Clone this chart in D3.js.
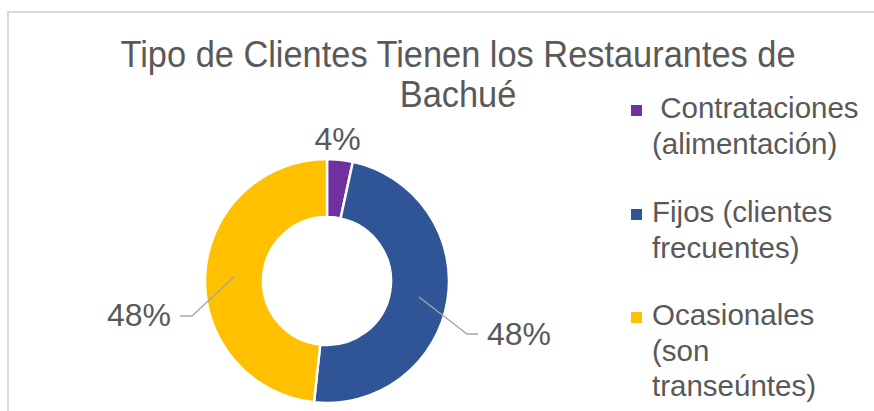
<!DOCTYPE html>
<html>
<head>
<meta charset="utf-8">
<script src="https://cdn.jsdelivr.net/npm/d3@7"></script>
<style>
  body { margin: 0; background: #fff; }
  text { font-family: "Liberation Sans", Arial, sans-serif; fill: #595959; }
</style>
</head>
<body>
<div id="chart"></div>
<script>
// data
var categories = [" Contrataciones (alimentación)", "Fijos (clientes frecuentes)", "Ocasionales (son transeúntes)"];
var values = [3.4, 48.3, 48.3];
var labels = ["4%", "48%", "48%"];
var colors = ["#7030a0", "#2f5597", "#ffc000"];
var legendLines = [[" Contrataciones", "(alimentación)"], ["Fijos (clientes", "frecuentes)"], ["Ocasionales", "(son", "transeúntes)"]];
var titleLines = ["Tipo de Clientes Tienen los Restaurantes de", "Bachué"];

var w = 874, h = 411;
var svg = d3.select("#chart").append("svg")
  .attr("width", w)
  .attr("height", h);

// chart area border (runs off right and bottom)
svg.append("path")
  .attr("d", "M8," + (h + 5) + "V12H" + (w + 5))
  .attr("fill", "none")
  .attr("stroke", "#d9d9d9")
  .attr("stroke-width", 2);

// title - the original font is a condensed serif, so squeeze it a bit
var titles = svg.append("g").selectAll("text")
  .data(titleLines)
  .enter()
  .append("text")
  .attr("x", 458)
  .attr("y", (d, i) => 67 + i * 40)
  .attr("text-anchor", "middle")
  .style("font-size", "36.5px")
  .text(d => d);
var squeeze = 675 / titles.node().getComputedTextLength();
titles.each(function() {
  var len = this.getComputedTextLength();
  d3.select(this)
    .attr("textLength", len * squeeze)
    .attr("lengthAdjust", "spacingAndGlyphs");
});

// donut
var cx = 327, cy = 281, rOut = 122, rIn = 64;
var pie = d3.pie().sort(null).value(d => d);
var arcs = pie(values);
var arc = d3.arc().innerRadius(rIn).outerRadius(rOut);

var g = svg.append("g").attr("transform", "translate(" + cx + "," + cy + ")");
g.selectAll("path")
  .data(arcs)
  .enter()
  .append("path")
  .attr("d", arc)
  .attr("fill", (d, i) => colors[i])
  .attr("stroke", "#fff")
  .attr("stroke-width", 2.5);

// data labels with leader lines
var labelPos = [[10.5, -131, "middle"], [160, 64, "start"], [-156, 45, "end"]];
var leaders = [null,
  [[92, 16], [140, 53], [151, 53]],
  [[-92, -5], [-135, 35], [-147, 35]]];

g.selectAll("polyline")
  .data(leaders.filter(d => d))
  .enter()
  .append("polyline")
  .attr("points", d => d.map(p => p.join(",")).join(" "))
  .attr("fill", "none")
  .attr("stroke", "#a6a6a6")
  .attr("stroke-width", 1.3);

g.selectAll("text.lbl")
  .data(labels)
  .enter()
  .append("text")
  .attr("class", "lbl")
  .attr("x", (d, i) => labelPos[i][0])
  .attr("y", (d, i) => labelPos[i][1])
  .attr("text-anchor", (d, i) => labelPos[i][2])
  .style("font-size", "32px")
  .text(d => d);

// legend
var legY = [118, 222, 325];
var leg = svg.append("g");
categories.forEach(function(c, i) {
  leg.append("rect")
    .attr("x", 631)
    .attr("y", legY[i] - 13)
    .attr("width", 11)
    .attr("height", 11)
    .attr("fill", colors[i]);
  leg.append("text")
    .attr("x", 652)
    .attr("y", legY[i])
    .style("font-size", "29.5px")
    .attr("xml:space", "preserve")
    .selectAll("tspan")
    .data(legendLines[i])
    .enter()
    .append("tspan")
    .attr("x", 652)
    .attr("dy", (d, j) => j ? 35.5 : 0)
    .text(d => d);
});
</script>
</body>
</html>
